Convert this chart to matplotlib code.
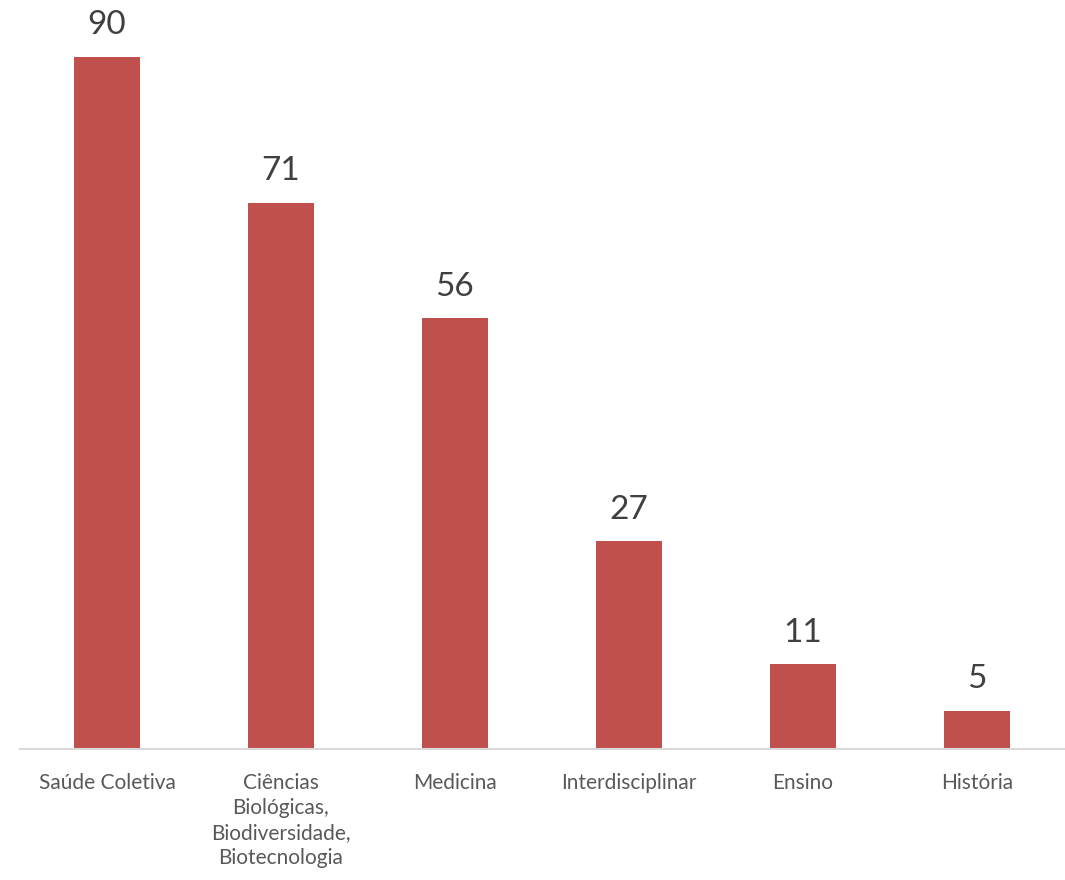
import matplotlib.pyplot as plt
import numpy as np

# Dados
areas = ['Saúde Coletiva', 'Ciências\nBiológicas,\nBiodiversidade,\nBiotecnologia',
         'Medicina', 'Interdisciplinar', 'Ensino', 'História']
valores = [90, 71, 56, 27, 11, 5]

plt.rcParams['font.family'] = ['Lato', 'DejaVu Sans']

fig = plt.figure(figsize=(10.65, 8.8), dpi=100)
# eixo posicionado em pixels: base em y=749, largura de 20 a 1064
ymax = 97
px_por_unidade = 7.69
altura = ymax * px_por_unidade
ax = fig.add_axes([20 / 1065, (880 - 749) / 880, 1044 / 1065, altura / 880])

x = np.arange(len(areas))
barras = ax.bar(x, valores, width=0.38, color='#C0504D')

for xi, v in zip(x, valores):
    ax.annotate(str(v), (xi, v), xytext=(0, 12), textcoords='offset points',
                ha='center', va='bottom', fontsize=24, color='#404040')

ax.set_xlim(-0.5, len(areas) - 0.5)
ax.set_ylim(0, ymax)
ax.set_xticks(x)
ax.set_xticklabels(areas, fontsize=15, color='#595959', linespacing=1.32, va='top')
ax.tick_params(axis='x', length=0, pad=17)
ax.set_yticks([])
for lado in ['top', 'right', 'left']:
    ax.spines[lado].set_visible(False)
ax.spines['bottom'].set_color('#D9D9D9')
ax.spines['bottom'].set_linewidth(1.5)

plt.savefig('out.png', dpi=100)
